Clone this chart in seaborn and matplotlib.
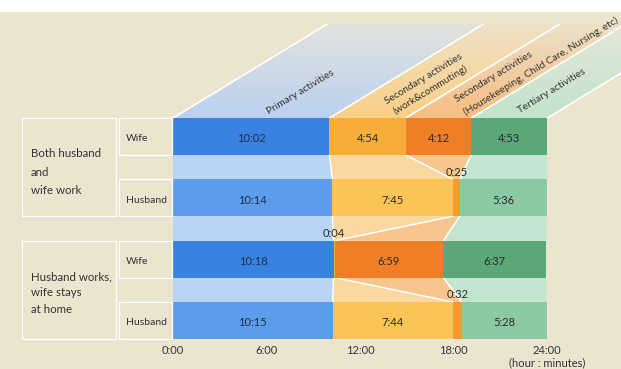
import numpy as np
import pandas as pd
import seaborn as sns
import matplotlib.pyplot as plt
from matplotlib.patches import Polygon, Rectangle
from matplotlib.colors import to_rgb

# data (hour:minutes)
row_ids = ['r0', 'r1', 'r2', 'r3']
people = ['Wife', 'Husband', 'Wife', 'Husband']
groups = ['Both husband\nand\nwife work', 'Husband works,\nwife stays\nat home']
primary = ['10:02', '10:14', '10:18', '10:15']
work = ['4:54', '7:45', '0:04', '7:44']
house = ['4:12', '0:25', '6:59', '0:32']
tertiary = ['4:53', '5:36', '6:37', '5:28']
ticks = [0, 6, 12, 18, 24]
tick_labels = ['0:00', '6:00', '12:00', '18:00', '24:00']

# colours: (wife, husband) per activity
dark = [('#3a82e0', '#5b9ceb'), ('#f8ad38', '#fcc457'),
        ('#ef7f27', '#f39a30'), ('#5aa878', '#8bc9a4')]
light = ['#bad4f5', '#fbd89f', '#f8c58f', '#c4e5d0']
head_bot = ['#b9d1f1', '#fbcf86', '#f7bd82', '#c2e3cb']
head_top = ['#e3e3dc', '#eee2c6', '#ede0c8', '#e4e8d7']
BEIGE = '#ebe5cf'
TXT = '#333333'

sns.set_theme(style='white')
plt.rcParams['font.family'] = ['Lato', 'DejaVu Sans']


def to_h(s):
    h, m = s.split(':')
    return int(h) + int(m) / 60


segs = [primary, work, house, tertiary]
H = np.array([[to_h(v) for v in s] for s in segs])
cum = H.cumsum(axis=0)
starts = cum - H

# pixel helpers for layout (full-figure axes)
X0, PXH = 173, 15.583
Y0, PXR = 136.5, 61.33
fx = lambda p: (p - X0) / PXH
fy = lambda p: (p - Y0) / PXR
BH = 0.3

fig = plt.figure(figsize=(6.21, 3.69), dpi=100, facecolor='white')
ax = fig.add_axes([0, 0, 1, 1])
ax.patch.set_alpha(0)
ax.add_patch(Rectangle((fx(0), fy(12)), fx(621) - fx(0), fy(369) - fy(12),
                       facecolor=BEIGE, edgecolor='none', zorder=0))

# stacked bars (cumulative, drawn back to front)
df = pd.DataFrame({'row': row_ids})
for k in reversed(range(4)):
    df['cum'] = cum[k]
    pal = {r: dark[k][i % 2] for i, r in enumerate(row_ids)}
    sns.barplot(data=df, x='cum', y='row', hue='row', palette=pal, orient='h',
                width=0.6, saturation=1, legend=False, ax=ax, linewidth=0, zorder=2)

# connecting bands between bars
for i in range(3):
    yt, yb = i + BH, i + 1 - BH
    for k in range(4):
        pts = [(starts[k, i], yt), (cum[k, i], yt), (cum[k, i + 1], yb), (starts[k, i + 1], yb)]
        ax.add_patch(Polygon(pts, closed=True, facecolor=light[k], edgecolor='none', zorder=1))
    for k in range(3):
        ax.plot([cum[k, i], cum[k, i + 1]], [yt, yb], color='white', lw=1.1, zorder=1.5)

# header bands
DX, DY = 154 / PXH, 94 / PXR
bounds = [0] + list(cum[:, 0])
ytop = -BH - DY
for k in range(4):
    pts = [(bounds[k], -BH), (bounds[k + 1], -BH), (bounds[k + 1] + DX, ytop), (bounds[k] + DX, ytop)]
    patch = Polygon(pts, closed=True, facecolor='none', edgecolor='none')
    ax.add_patch(patch)
    t = np.linspace(0, 1, 80)[:, None]
    img = (np.array(to_rgb(head_bot[k])) * (1 - t) + np.array(to_rgb(head_top[k])) * t)[:, None, :]
    im = ax.imshow(img, extent=(bounds[k], bounds[k + 1] + DX, -BH, ytop), origin='lower',
                   aspect='auto', zorder=1, interpolation='bilinear')
    im.set_clip_path(patch)
for b in bounds:
    ax.plot([b, b + DX], [-BH, ytop], color='white', lw=1.2, zorder=1.5)

# header labels (per line, rotated along the bands)
head_lines = [('Primary activities', 301, 92), ('Secondary activities', 424, 79),
              ('(work&commuting)', 430, 90), ('Secondary activities', 494, 77),
              ('(Housekeeping, Child Care, Nursing, etc)', 541, 66),
              ('Tertiary activities', 552, 91)]
for s, px, py in head_lines:
    ax.text(fx(px), fy(py), s, rotation=31.4, rotation_mode='anchor', ha='center',
            va='center', fontsize=7.3, color=TXT, zorder=3)

# value labels
for k in range(4):
    for i in range(4):
        mid = (starts[k, i] + cum[k, i]) / 2
        lab = segs[k][i]
        col = '#1d3050' if k == 0 else '#2a2a2a'
        if H[k, i] < 1:
            ax.text(mid, i - BH - 0.03, lab, ha='center', va='bottom', fontsize=8,
                    color=col, zorder=3)
        else:
            ax.text(mid, i + 0.04, lab, ha='center', va='center', fontsize=8,
                    color=col, zorder=3)

# row label boxes
for g in range(2):
    r0 = 2 * g
    ax.add_patch(Rectangle((fx(22), r0 - BH), fx(116) - fx(22), 1 + 2 * BH,
                           facecolor='none', edgecolor='white', lw=0.9, zorder=3))
    ax.text(fx(31), fy(172 if g == 0 else 293), groups[g], ha='left', va='center',
            fontsize=8.3, color=TXT, linespacing=1.85 if g == 0 else 1.6, zorder=3)
    for i in (r0, r0 + 1):
        ax.add_patch(Rectangle((fx(119), i - BH), fx(172) - fx(119), 2 * BH,
                               facecolor='none', edgecolor='white', lw=0.9, zorder=3))
        ax.text(fx(126), i + 0.04, people[i], ha='left', va='center', fontsize=7.5,
                color=TXT, zorder=3)

# time axis labels
for t, lab in zip(ticks, tick_labels):
    ax.text(t, fy(351), lab, ha='center', va='center', fontsize=8, color=TXT)
ax.text(24, fy(363), '(hour : minutes)', ha='center', va='center', fontsize=8, color=TXT)

ax.set_xlim(fx(0), fx(621))
ax.set_ylim(fy(369), fy(0))
ax.axis('off')

fig.savefig('out.png', dpi=100, facecolor='white')
